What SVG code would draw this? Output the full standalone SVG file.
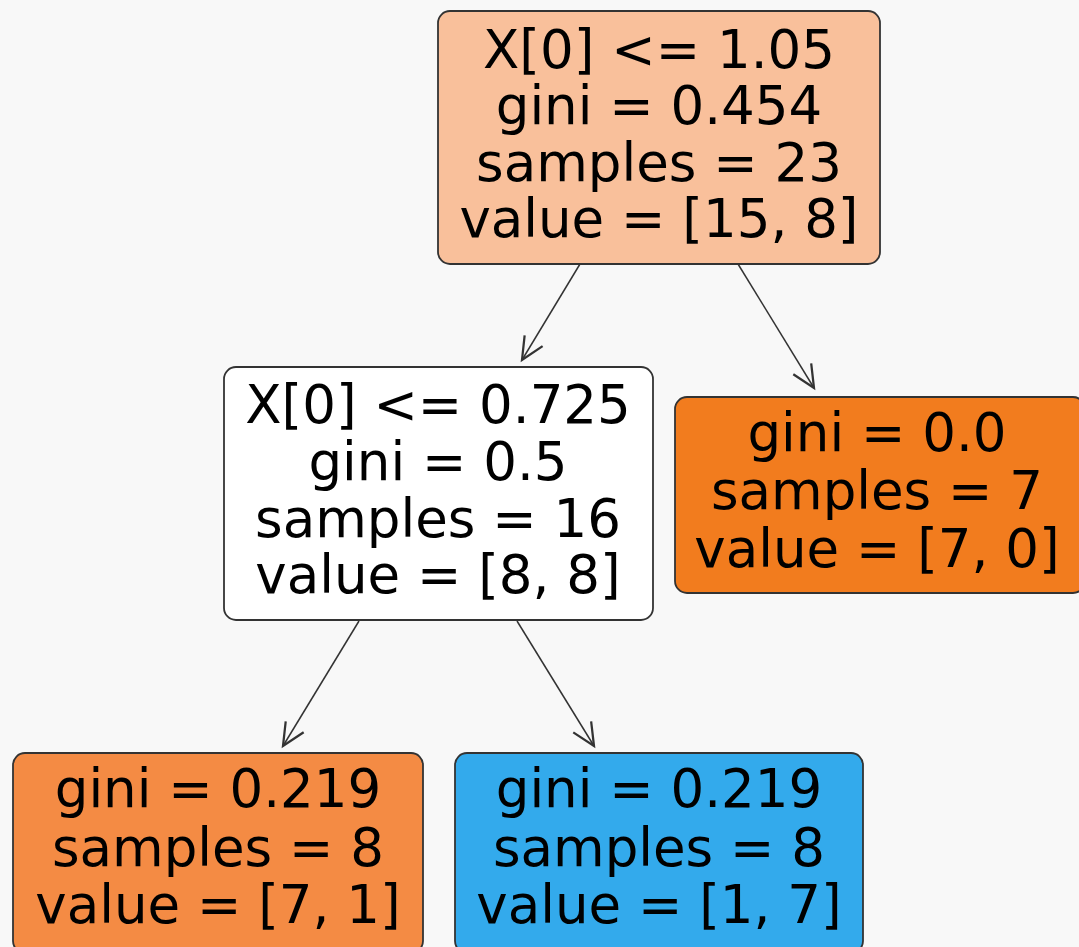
<svg xmlns="http://www.w3.org/2000/svg" width="1079" height="947" viewBox="0 0 1079 947">
<style>
.box{stroke:#333333;stroke-width:1.8}
.t{font-family:"DejaVu Sans",sans-serif;font-size:53px;fill:#000000;text-anchor:middle}
.edge{stroke:#333333;stroke-width:1.5;fill:none}
</style>
<defs>
<marker id="arr" markerUnits="userSpaceOnUse" markerWidth="30" markerHeight="30" refX="16" refY="8" orient="auto" viewBox="0 0 20 16">
<path d="M1,1 L16,8 L1,15" fill="none" stroke="#333333" stroke-width="1.5"/>
</marker>
</defs>
<rect width="1079" height="947" fill="#f8f8f8"/>
<g id="connectors">
<line class="edge" x1="580" y1="264" x2="522" y2="360" marker-end="url(#arr)"/>
<line class="edge" x1="738" y1="264" x2="814" y2="388" marker-end="url(#arr)"/>
<line class="edge" x1="359" y1="621" x2="283" y2="746" marker-end="url(#arr)"/>
<line class="edge" x1="517" y1="621" x2="594" y2="746" marker-end="url(#arr)"/>
</g>
<g id="node0">
<rect class="box" x="438" y="11" width="442" height="253" rx="12" fill="#f9c09b"/>
<text class="t" x="659" y="68">X[0] &lt;= 1.05</text>
<text class="t" x="659" y="124">gini = 0.454</text>
<text class="t" x="659" y="181">samples = 23</text>
<text class="t" x="659" y="237">value = [15, 8]</text>
</g>
<g id="node1">
<rect class="box" x="224" y="367" width="429" height="253" rx="12" fill="#ffffff"/>
<text class="t" x="438" y="423">X[0] &lt;= 0.725</text>
<text class="t" x="438" y="480">gini = 0.5</text>
<text class="t" x="438" y="537">samples = 16</text>
<text class="t" x="438" y="593">value = [8, 8]</text>
</g>
<g id="node4">
<rect class="box" x="675" y="397" width="410" height="196" rx="12" fill="#f27c1e"/>
<text class="t" x="877" y="451">gini = 0.0</text>
<text class="t" x="877" y="509">samples = 7</text>
<text class="t" x="877" y="567">value = [7, 0]</text>
</g>
<g id="node2">
<rect class="box" x="13" y="753" width="410" height="200" rx="12" fill="#f48b44"/>
<text class="t" x="218" y="807">gini = 0.219</text>
<text class="t" x="218" y="866">samples = 8</text>
<text class="t" x="218" y="923">value = [7, 1]</text>
</g>
<g id="node3">
<rect class="box" x="455" y="753" width="408" height="200" rx="12" fill="#33aaec"/>
<text class="t" x="659" y="807">gini = 0.219</text>
<text class="t" x="659" y="866">samples = 8</text>
<text class="t" x="659" y="923">value = [1, 7]</text>
</g>
</svg>
